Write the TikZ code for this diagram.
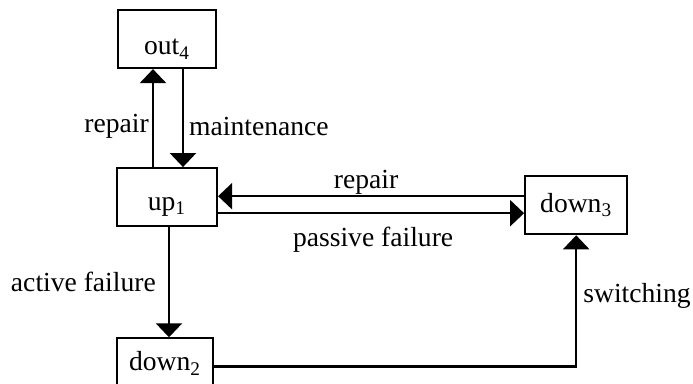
\documentclass[tikz,border=0pt]{standalone}
\usepackage{fontspec}
\setmainfont{Liberation Serif}
\usepackage{tikz}
\usetikzlibrary{arrows.meta,positioning}

\begin{document}
\begin{tikzpicture}[node distance=49pt and 153pt, box/.style={draw,line width=1.1pt,
  minimum width=49pt,minimum height=29pt,inner sep=2pt}, >={Triangle[width=13pt,length=7pt]},
  line width=1.2pt, every node/.style={font=\fontsize{13.8}{16}\selectfont}]
\useasboundingbox (0,0) rectangle (346.5pt,-192pt);
\node[box,text height=17pt,text depth=1pt] (out) at (83.5pt,-19.5pt) {out\textsubscript{4}};
\node[box,minimum width=50pt,text height=14pt,text depth=1pt,below=of out] (up) {up\textsubscript{1}};
\node[box,minimum width=48pt,minimum height=25pt,below=55pt of up,xshift=-1pt] (dtwo) {down\textsubscript{2}};
\node[box,minimum width=51pt,right=of up,yshift=-4pt] (dthree) {down\textsubscript{3}};
\draw[->] ([xshift=-7pt]up.north) -- node[left,yshift=-4pt,inner sep=1.5pt] {repair} ([xshift=-7pt]out.south);
\draw[->] ([xshift=8pt]out.south) -- node[right,yshift=-4pt,inner sep=2.5pt] {maintenance} ([xshift=8pt]up.north);
\draw[->] ([yshift=4.5pt]dthree.west) -- node[above,inner sep=0.5pt,xshift=-2.5pt] {repair} ([yshift=4.5pt]dthree.west -| up.east);
\draw[->] ([yshift=-4pt]dthree.west -| up.east) -- node[below=3pt,xshift=1pt] {passive failure} ([yshift=-4pt]dthree.west);
\draw[->] ([xshift=1pt]up.south) -- node[left,inner sep=6pt] {active failure} ([xshift=1pt]up.south |- dtwo.north);
\draw[->] ([yshift=-1.5pt]dtwo.east) -| node[right,pos=0.77,inner sep=3pt] {switching} (dthree.south);
\end{tikzpicture}
\end{document}
